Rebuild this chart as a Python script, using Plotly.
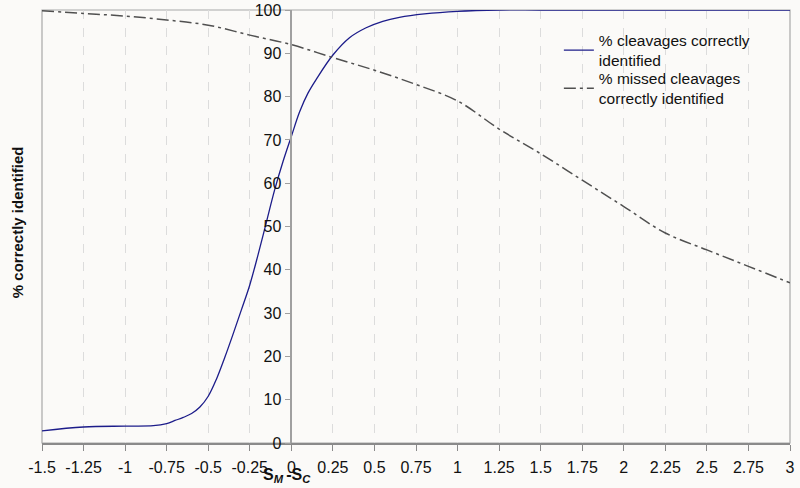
import plotly.graph_objects as go

# Series 1: % cleavages correctly identified
x_cleav = [-1.5, -1.25, -1.0, -0.83, -0.75, -0.7, -0.65, -0.6, -0.55, -0.5, -0.45, -0.4, -0.35,
           -0.3, -0.25, -0.2, -0.15, -0.1, -0.05, 0.0, 0.05, 0.1, 0.15, 0.25, 0.35, 0.45,
           0.55, 0.65, 0.8, 1.0, 1.25, 1.5, 2.0, 2.5, 3.0]
y_cleav = [2.8, 3.7, 3.9, 4.0, 4.5, 5.2, 5.9, 6.8, 8.3, 10.8, 14.8, 19.8, 25.2,
           30.8, 36.5, 43.5, 51.0, 58.5, 65.0, 70.8, 76.5, 80.8, 84.0, 89.6, 93.6, 95.9,
           97.4, 98.3, 99.1, 99.7, 100.0, 100.0, 100.0, 100.0, 100.0]

# Series 2: % missed cleavages correctly identified
x_missed = [-1.5, -1.25, -1.0, -0.75, -0.5, -0.25, 0.0, 0.25, 0.5, 0.75, 1.0, 1.25,
            1.5, 1.75, 2.0, 2.25, 2.5, 2.75, 3.0]
y_missed = [99.8, 99.2, 98.6, 97.7, 96.5, 94.2, 92.0, 89.0, 86.1, 82.8, 79.0, 72.5,
            66.8, 60.7, 54.6, 48.5, 44.6, 40.8, 37.0]

x_ticks = [-1.5, -1.25, -1, -0.75, -0.5, -0.25, 0, 0.25, 0.5, 0.75, 1, 1.25, 1.5,
           1.75, 2, 2.25, 2.5, 2.75, 3]
x_ticklabels = ["-1.5", "-1.25", "-1", "-0.75", "-0.5", "-0.25", "0", "0.25", "0.5",
                "0.75", "1", "1.25", "1.5", "1.75", "2", "2.25", "2.5", "2.75", "3"]
y_ticks = [0, 10, 20, 30, 40, 50, 60, 70, 80, 90, 100]

FONT = "Liberation Sans, Arial, sans-serif"
BG = "#fbfaf8"

fig = go.Figure()
fig.add_trace(go.Scatter(
    x=x_cleav, y=y_cleav, mode="lines", line_shape="spline",
    name="% cleavages correctly<br>identified", legend="legend",
    line=dict(color="#1c1c8a", width=1.3),
))
fig.add_trace(go.Scatter(
    x=x_missed, y=y_missed, mode="lines", line_shape="spline",
    name="% missed cleavages<br>correctly identified", legend="legend2",
    line=dict(color="#505050", width=1.5, dash="12px,4px,3px,4px"),
))

leg_common = dict(xanchor="left", yanchor="top", bgcolor="rgba(0,0,0,0)",
                  font=dict(size=15.5, family=FONT, color="#111111"), itemwidth=30)

fig.update_layout(
    width=800, height=488,
    margin=dict(l=42, r=10, t=10, b=45, autoexpand=False),
    paper_bgcolor=BG, plot_bgcolor=BG,
    font=dict(family=FONT, size=16, color="#111111"),
    showlegend=True,
    legend=dict(x=0.691, y=0.969, **leg_common),
    legend2=dict(x=0.691, y=0.881, **leg_common),
    xaxis=dict(range=[-1.5, 3], tickvals=x_ticks, ticktext=x_ticklabels,
               showgrid=True, gridcolor="#dcdcdc", griddash="dash", gridwidth=1,
               zeroline=False, showline=True, linecolor="#8a8a8a", linewidth=1.5,
               ticks="outside", ticklen=6, tickcolor="#8a8a8a",
               ticklabelstandoff=3, domain=[0, 1], automargin=False),
    yaxis=dict(range=[0, 100], tickvals=y_ticks, showgrid=False, zeroline=False,
               anchor="free", position=(0 + 1.5) / 4.5, automargin=False,
               ticklabeloverflow="allow",
               showline=True, linecolor="#a0a0a0", linewidth=1.5,
               ticks="outside", ticklen=6, tickcolor="#a0a0a0"),
)

# plot frame
fig.add_shape(type="rect", xref="paper", yref="paper", x0=0, y0=0, x1=1, y1=1,
              line=dict(color="#a8a8a8", width=1.2), layer="below")

# axis titles
fig.add_annotation(text="<b>S<sub><i>M</i></sub>&#8201;-S<sub><i>C</i></sub></b>",
                   xref="x", yref="paper", x=-0.026, y=-0.074, showarrow=False,
                   font=dict(size=16, family=FONT), xanchor="center", yanchor="middle")
fig.add_annotation(text="<b>% correctly identified</b>", textangle=-90,
                   xref="paper", yref="paper", x=-0.0334, y=0.51, showarrow=False,
                   font=dict(size=15, family=FONT), xanchor="center", yanchor="middle")

fig.write_html("out.html", config={"displayModeBar": False},
               post_script="document.body.style.margin='0';document.body.style.background='" + BG + "';")
